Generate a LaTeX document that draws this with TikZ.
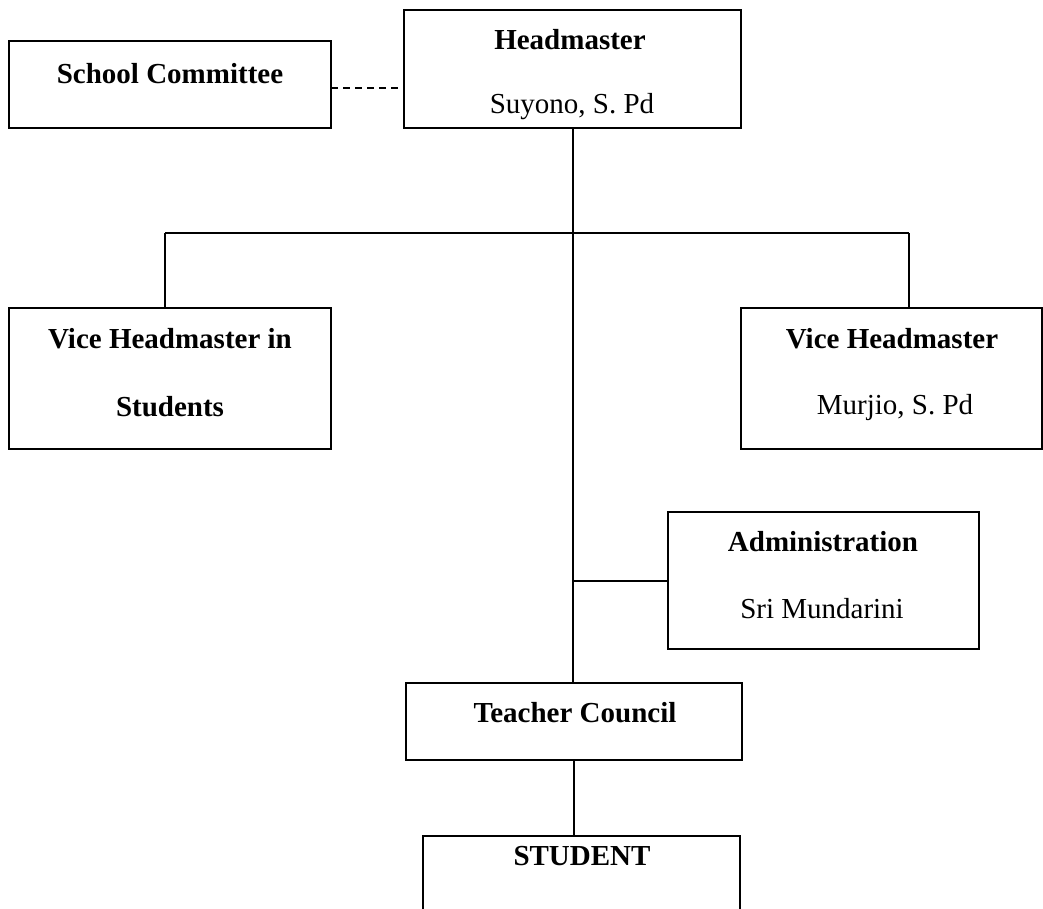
\documentclass[tikz,border=0pt]{standalone}
\usepackage{fontspec}
\setmainfont{Liberation Serif}
\usepackage{tikz}
\usetikzlibrary{arrows}

\begin{document}
\begin{tikzpicture}[x=1pt, y=-1pt, line width=2pt,
        unit/.style = {draw, rectangle, inner sep=0pt},
        role/.style = {anchor=base, font=\fontsize{29}{35}\selectfont\bfseries},
        person/.style = {anchor=base, font=\fontsize{29}{35}\selectfont}]
        \useasboundingbox (0, 0) rectangle (1043, 908);
        % boxes
        \node[unit, minimum width=322pt, minimum height=87pt] (committee) at (170, 84.5) {};
        \node[unit, minimum width=337pt, minimum height=118pt] (head) at (572.5, 69) {};
        \node[unit, minimum width=322pt, minimum height=141pt] (vstud) at (170, 378.5) {};
        \node[unit, minimum width=301pt, minimum height=141pt] (vhead) at (891.5, 378.5) {};
        \node[unit, minimum width=311pt, minimum height=137pt] (admin) at (823.5, 580.5) {};
        \node[unit, minimum width=336pt, minimum height=77pt] (council) at (574, 721.5) {};
        \node[unit, minimum width=317pt, minimum height=124pt] (student) at (581.5, 898) {};
        % texts
        \node[role] (committeeT) at (170, 83) {School Committee};
        \node[role] (headT) at (570, 49) {Headmaster};
        \node[person] (headN) at (572, 113) {Suyono, S. Pd};
        \node[role] (vstudT) at (170, 348) {Vice Headmaster in};
        \node[role] (vstudS) at (170, 416) {Students};
        \node[role] (vheadT) at (892, 348) {Vice Headmaster};
        \node[person] (vheadN) at (895, 414) {Murjio, S. Pd};
        \node[role] (adminT) at (823, 551) {Administration};
        \node[person] (adminN) at (822, 618) {Sri Mundarini};
        \node[role] (councilT) at (575, 722) {Teacher Council};
        \node[role] (studentT) at (582, 865) {STUDENT};
        % connectors
        \coordinate (lbus) at (165, 233);
        \coordinate (rbus) at (909, 233);
        \coordinate (dash) at (331, 88);
        \path[draw, dash pattern=on 7pt off 5pt] (dash) -- (dash -| head.west);
        \path[draw] (head.south) -- (head.south |- council.north);
        \path[draw] (lbus) -- (rbus);
        \path[draw] (lbus) -- (lbus |- vstud.north);
        \path[draw] (rbus) -- (rbus |- vhead.north);
        \path[draw] (admin.west) -- (admin.west -| head.south);
        \path[draw] (council.south) -- (council.south |- student.north);
    \end{tikzpicture}
\end{document}
